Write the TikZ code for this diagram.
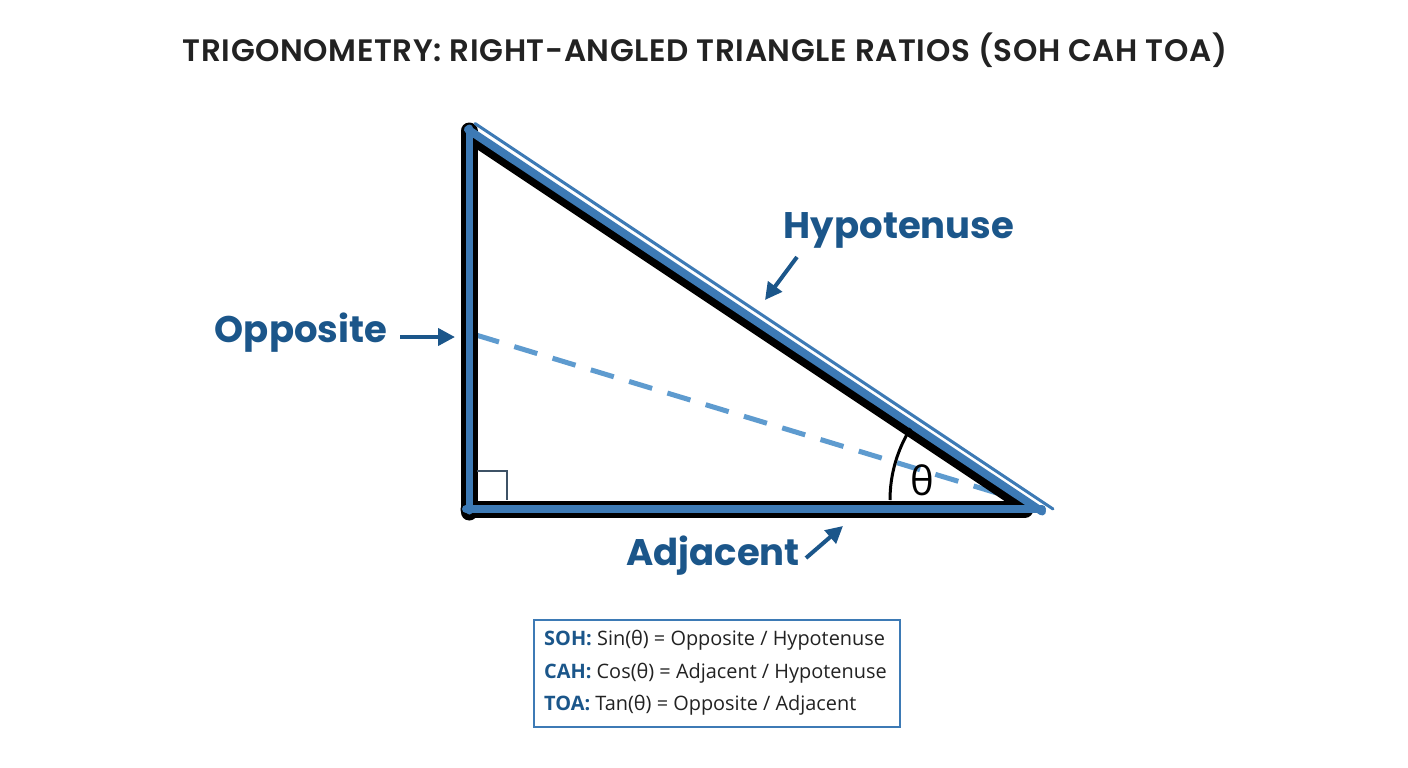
\documentclass[tikz,border=0pt]{standalone}
\usepackage{fontspec}
\setmainfont{Open Sans}
\newfontfamily\titlefont{Poppins SemiBold}[LetterSpace=2]
\newfontfamily\labelfont{Poppins}[BoldFont={* Bold}]
\usetikzlibrary{arrows.meta}
\definecolor{edgeblue}{HTML}{3D7AB5}
\definecolor{labelblue}{HTML}{1B568A}
\definecolor{dashblue}{HTML}{5E9BCF}
\definecolor{sqcol}{HTML}{3E5266}
\definecolor{txt}{HTML}{222222}
\tikzset{
  sidelabel/.style={font=\labelfont\bfseries\fontsize{37}{44}\selectfont, text=labelblue, inner sep=0pt},
  pointer/.style={draw=labelblue, line width=4pt, -{Triangle[length=17pt,width=17pt]}},
  blackedge/.style={draw=black, line cap=round},
  blueedge/.style={draw=edgeblue, line cap=round},
  formula/.style={anchor=west, font=\fontsize{19.9}{24}\selectfont, text=txt, inner sep=0pt},
}
\newcommand{\tag}[1]{\textcolor{labelblue}{\bfseries #1}}
\begin{document}
\begin{tikzpicture}[x=1pt,y=-1pt]
\useasboundingbox (0,0) rectangle (1408,768);
\fill[white] (0,0) rectangle (1408,768);
% title
\node[font=\titlefont\fontsize{31}{36}\selectfont, text=txt] (title) at (705,50) {TRIGONOMETRY: RIGHT-ANGLED TRIANGLE RATIOS (SOH CAH TOA)};
% triangle vertices
\coordinate (A) at (470,138);
\coordinate (B) at (469,509);
\coordinate (C) at (1025,508);
% dashed line
\draw[dashblue, line width=5pt, dash pattern=on 24pt off 16pt] (476,335) -- (1010,497);
% black triangle
\draw[blackedge, line width=17pt] (469,131) -- (469,512);
\draw[blackedge, line width=17pt] (469,509) -- (1025,509);
\draw[blackedge, line width=11pt] (A) -- (C);
% blue stripes
\draw[blueedge, line width=7pt] (469,128) -- (469,511);
\draw[blueedge, line width=8pt] (466,509) -- (1042,509);
\draw[blueedge, line width=8pt] (468,129.5) -- (1042,511.5);
\draw[edgeblue, line width=3pt, line cap=round] (475,123.5) -- (1053,509);
% right angle mark
\draw[sqcol, line width=2.5pt] (477,471) -- (507,471) -- (507,500);
% angle arc
\draw[black, line width=3pt] (890,500) arc[start angle=180, end angle=212, radius=135];
\node[font=\fontsize{40}{46}\selectfont, text=black] (theta) at (922,480) {θ};
% labels
\node[sidelabel] (hyp) at (899,230) {Hypotenuse};
\node[sidelabel] (opp) at (301,333) {Opposite};
\node[sidelabel] (adj) at (713,556) {Adjacent};
\coordinate (hypt) at (765,300);
\coordinate (oppt) at (455,337);
\coordinate (adjt) at (843,526);
\draw[pointer] (797,257) -- (hypt);
\draw[pointer] (400,337) -- (oppt);
\draw[pointer] (806,558) -- (adjt);
% formula box
\node[draw=edgeblue, line width=1.5pt, minimum width=366pt, minimum height=107pt, inner sep=0pt] (box) at (717,673.5) {};
\node[formula] (l1) at (544,640) {\tag{SOH:} Sin(θ) = Opposite / Hypotenuse};
\node[formula] (l2) at (544,673) {\tag{CAH:} Cos(θ) = Adjacent / Hypotenuse};
\node[formula] (l3) at (544,705) {\tag{TOA:} Tan(θ) = Opposite / Adjacent};
\end{tikzpicture}
\end{document}
